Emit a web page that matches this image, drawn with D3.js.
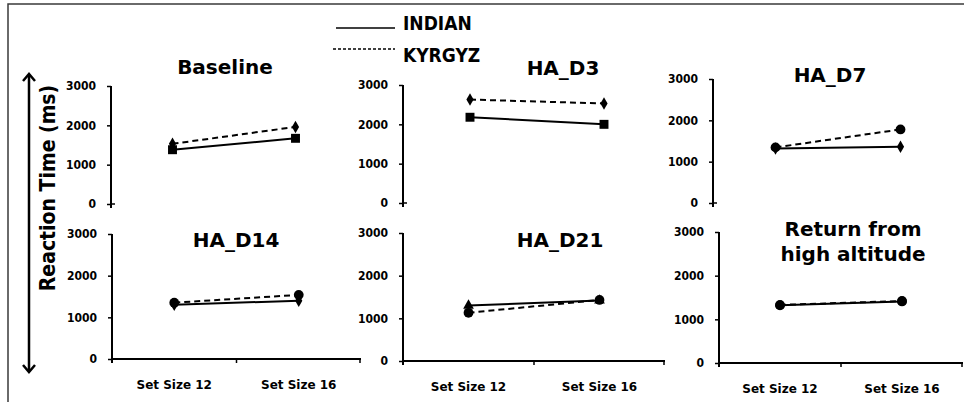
<!DOCTYPE html>
<html>
<head>
<meta charset="utf-8">
<script src="https://cdn.jsdelivr.net/npm/d3@7"></script>
<style>
  body { margin: 0; background: #fff; }
  svg { display: block; font-family: "DejaVu Sans", Verdana, sans-serif; }
</style>
</head>
<body>
<svg id="chart" width="964" height="402"></svg>
<script>
// data
const panelTitles = ['Baseline', 'HA_D3', 'HA_D7', 'HA_D14', 'HA_D21', 'Return from high altitude']
const categories = ['Set Size 12', 'Set Size 16']
const indian = [[1380, 1670], [2180, 2000], [1320, 1360], [1300, 1400], [1300, 1420], [1320, 1410]]
const kyrgyz = [[1530, 1960], [2630, 2530], [1345, 1780], [1350, 1540], [1130, 1430], [1330, 1420]]
const yTicks = [0, 1000, 2000, 3000]
const indianMarkers = ['square', 'square', 'diamond', 'diamond', 'triangle', 'circle']
const kyrgyzMarkers = ['diamond', 'diamond', 'circle', 'circle', 'circle', 'circle']

// where each small panel sits (x0, x1, top, bottom) and its title
const layout = [
	{ x0: 111, x1: 357, top: 86, bottom: 204, tx: 225, ty: [67] },
	{ x0: 403, x1: 671, top: 85, bottom: 203, tx: 563, ty: [68] },
	{ x0: 713, x1: 963, top: 79, bottom: 203, tx: 830, ty: [75] },
	{ x0: 112, x1: 361, top: 234, bottom: 359, tx: 236, ty: [240] },
	{ x0: 403, x1: 665, top: 233, bottom: 361, tx: 560, ty: [240] },
	{ x0: 719, x1: 963, top: 232, bottom: 363, tx: 853, ty: [229, 254] },
]
const titleLines = [['Baseline'], ['HA_D3'], ['HA_D7'], ['HA_D14'], ['HA_D21'], ['Return from', 'high altitude']]

const condensed = '"DejaVu Sans Condensed", "DejaVu Sans", sans-serif'
const svg = d3.select('#chart')

// frame: only top and left edges are visible
svg.append('path')
	.attr('d', 'M8,402 V4 H964')
	.attr('fill', 'none')
	.attr('stroke', '#3a3a3a')
	.attr('stroke-width', 1.5)

// shared y label with double arrow
svg.append('line')
	.attr('x1', 29).attr('x2', 29).attr('y1', 75).attr('y2', 371)
	.attr('stroke', '#000').attr('stroke-width', 2.5)
svg.append('path')
	.attr('d', 'M23,81 L29,74 L35,81 M23,365 L29,372 L35,365')
	.attr('fill', 'none').attr('stroke', '#000').attr('stroke-width', 2.5)
svg.append('text')
	.attr('transform', 'translate(48,188) rotate(-90)')
	.attr('text-anchor', 'middle')
	.attr('dy', '0.35em')
	.style('font-size', '21px')
	.style('font-weight', 'bold')
	.style('font-family', condensed)
	.text('Reaction Time (ms)')

// legend
const legend = [
	{ name: 'INDIAN', dash: null, ly: 28, ty: 23, lx: 336 },
	{ name: 'KYRGYZ', dash: '3,2', ly: 49, ty: 55, lx: 333 },
]
legend.forEach(l => {
	svg.append('line')
		.attr('x1', l.lx).attr('x2', 395).attr('y1', l.ly).attr('y2', l.ly)
		.attr('stroke', '#000').attr('stroke-width', 1.5)
		.attr('stroke-dasharray', l.dash)
	svg.append('text')
		.attr('x', 403).attr('y', l.ty).attr('dy', '0.35em')
		.style('font-size', '19px').style('font-weight', 'bold')
		.style('font-family', condensed)
		.text(l.name)
})

const symbolFor = { square: d3.symbolSquare, diamond: d3.symbolDiamond, circle: d3.symbolCircle, triangle: d3.symbolTriangle }
const symbolSize = { square: 80, diamond: 45, circle: 75, triangle: 50 }

layout.forEach((p, i) => {
	const g = svg.append('g')
	const isBottom = i >= 3

	const x = d3.scaleBand().domain(categories).range([p.x0, p.x1])
	const y = d3.scaleLinear().domain([0, 3000]).range([p.bottom, p.top])

	// y axis
	const yAxis = g.append('g')
		.attr('transform', 'translate(' + p.x0 + ',0)')
		.call(d3.axisLeft(y).tickValues(yTicks).tickFormat(d3.format('d'))
			.tickSize(4).tickPadding(11).tickSizeOuter(0))
	yAxis.select('.domain').remove()
	yAxis.selectAll('line').attr('stroke', '#000').attr('stroke-width', 1.5)
	yAxis.selectAll('text')
		.style('font-size', '12px').style('font-weight', 'bold')
		.style('font-family', condensed).attr('fill', '#000')
	g.append('line')
		.attr('x1', p.x0).attr('x2', p.x0).attr('y1', p.top).attr('y2', p.bottom + 4)
		.attr('stroke', '#000').attr('stroke-width', 2)

	if (isBottom) {
		// category axis with ticks between categories
		g.append('line')
			.attr('x1', p.x0).attr('x2', p.x1).attr('y1', p.bottom).attr('y2', p.bottom)
			.attr('stroke', '#000').attr('stroke-width', 2)
		const bounds = [x.range()[0] + x.step(), x.range()[1] - 1]
		g.selectAll('.xtick').data(bounds).enter().append('line')
			.attr('x1', d => d).attr('x2', d => d)
			.attr('y1', p.bottom).attr('y2', p.bottom + 4)
			.attr('stroke', '#000').attr('stroke-width', 1.5)
		g.selectAll('.xlabel').data(categories).enter().append('text')
			.attr('x', d => x(d) + x.bandwidth() / 2)
			.attr('y', p.bottom + 26).attr('dy', '0.35em')
			.attr('text-anchor', 'middle')
			.style('font-size', '12px').style('font-weight', 'bold')
			.text(d => d)
	} else {
		// only a stub to the right of the zero tick
		g.append('line')
			.attr('x1', p.x0).attr('x2', p.x0 + 4).attr('y1', p.bottom).attr('y2', p.bottom)
			.attr('stroke', '#000').attr('stroke-width', 1.5)
	}

	// title
	titleLines[i].forEach((t, k) => {
		g.append('text')
			.attr('x', p.tx).attr('y', p.ty[k]).attr('dy', '0.35em')
			.attr('text-anchor', 'middle')
			.style('font-size', '20px').style('font-weight', 'bold')
			.text(t)
	})

	// series
	const series = [
		{ values: indian[i], dash: null, marker: indianMarkers[i] },
		{ values: kyrgyz[i], dash: '6,4', marker: kyrgyzMarkers[i] },
	]
	const line = d3.line()
		.x((d, j) => x(categories[j]) + x.bandwidth() / 2)
		.y(d => y(d))

	series.forEach(s => {
		g.append('path')
			.attr('d', line(s.values))
			.attr('fill', 'none')
			.attr('stroke', '#000')
			.attr('stroke-width', 2)
			.attr('stroke-dasharray', s.dash)
		g.selectAll(null).data(s.values).enter().append('path')
			.attr('transform', (d, j) => 'translate(' + (x(categories[j]) + x.bandwidth() / 2) + ',' + y(d) + ')')
			.attr('d', d3.symbol().type(symbolFor[s.marker]).size(symbolSize[s.marker]))
			.attr('fill', '#000')
	})
})
</script>
</body>
</html>
